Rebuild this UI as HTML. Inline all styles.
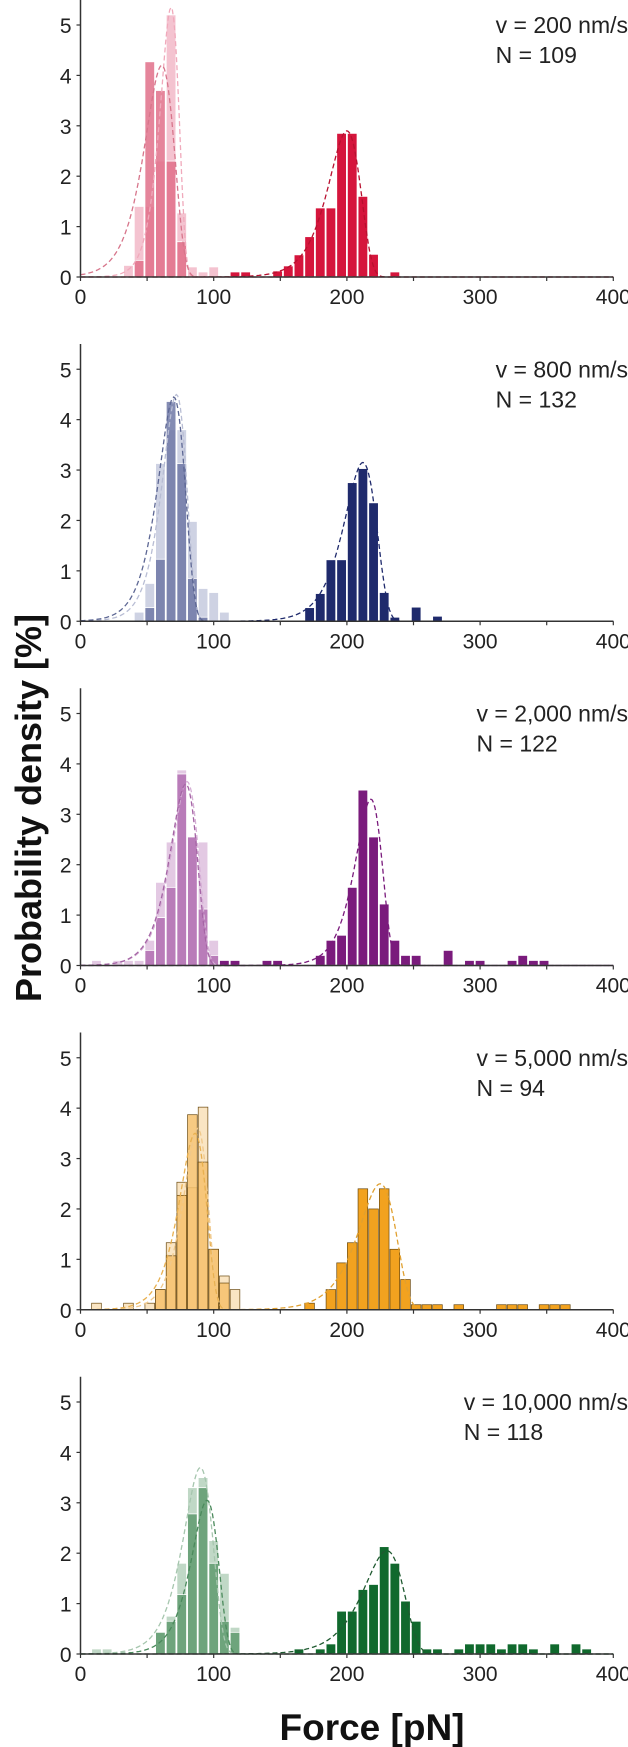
<!DOCTYPE html>
<html><head><meta charset="utf-8">
<style>
html,body{margin:0;padding:0;background:#fff;}
svg{display:block;font-family:"Liberation Sans",Arial,sans-serif;}
</style></head>
<body>
<svg id="chart" width="628" height="1747" viewBox="0 0 628 1747" xmlns="http://www.w3.org/2000/svg">
<text x="0" y="0" transform="translate(41,808) rotate(-90)" text-anchor="middle" font-size="36" font-weight="bold" fill="#111">Probability density [%]</text>
<text x="372" y="1740" text-anchor="middle" font-size="37" font-weight="bold" fill="#111">Force [pN]</text>
</svg>
<script>
const binWidth = 8;
const xTicks = [0, 100, 200, 300, 400];
const yTicks = [0, 1, 2, 3, 4, 5];
const speeds = ["v = 200 nm/s", "v = 800 nm/s", "v = 2,000 nm/s", "v = 5,000 nm/s", "v = 10,000 nm/s"];
const counts = ["N = 109", "N = 132", "N = 122", "N = 94", "N = 118"];

// histograms: [binStart, value]
const light1 = [[32,0.23],[40,1.4],[48,1.4],[56,2.3],[64,5.2],[72,1.27],[80,0.2],[88,0.1],[96,0.2]];
const medium1 = [[40,0.33],[48,4.27],[56,3.7],[64,2.3],[72,0.7]];
const dark1 = [[112,0.1],[120,0.1],[144,0.12],[152,0.22],[160,0.44],[168,0.8],[176,1.37],[184,1.37],[192,2.85],[200,2.85],[208,1.6],[216,0.45],[232,0.1]];

const light2 = [[40,0.18],[48,0.75],[56,3.13],[64,3.8],[72,3.8],[80,1.98],[88,0.65],[96,0.57],[104,0.18]];
const medium2 = [[48,0.27],[56,1.23],[64,4.36],[72,3.13],[80,0.85],[88,0.08]];
const dark2 = [[168,0.27],[176,0.55],[184,1.22],[192,1.22],[200,2.75],[208,3.03],[216,2.35],[224,0.57],[232,0.08],[248,0.28],[264,0.1]];

const light3 = [[8,0.1],[24,0.1],[32,0.1],[40,0.1],[48,0.5],[56,1.65],[64,2.45],[72,3.88],[80,2.55],[88,2.45],[96,0.5]];
const medium3 = [[48,0.3],[56,0.95],[64,1.55],[72,3.8],[80,2.55],[88,1.12],[96,0.2]];
const dark3 = [[104,0.1],[112,0.1],[136,0.1],[144,0.1],[176,0.2],[184,0.5],[192,0.6],[200,1.55],[208,3.48],[216,2.55],[224,1.22],[232,0.5],[240,0.2],[248,0.2],[272,0.3],[288,0.1],[296,0.1],[320,0.1],[328,0.2],[336,0.1],[344,0.1]];

const light4 = [[8,0.13],[32,0.13],[48,0.13],[56,0.4],[64,1.33],[72,2.53],[80,2.42],[88,4.02],[96,1.2],[104,0.67],[112,0.4]];
const medium4 = [[56,0.4],[64,1.07],[72,2.27],[80,3.87],[88,2.93],[96,1.2],[104,0.53]];
const dark4 = [[168,0.13],[184,0.4],[192,0.93],[200,1.33],[208,2.4],[216,2.0],[224,2.4],[232,1.2],[240,0.6],[248,0.1],[256,0.1],[264,0.1],[280,0.1],[312,0.1],[320,0.1],[328,0.1],[344,0.1],[352,0.1],[360,0.1]];

const light5 = [[8,0.1],[16,0.1],[56,0.43],[64,0.75],[72,1.8],[80,3.3],[88,3.5],[96,2.25],[104,1.6],[112,0.53]];
const medium5 = [[56,0.43],[64,0.65],[72,1.18],[80,2.78],[88,3.3],[96,1.8],[104,0.65],[112,0.43]];
const dark5 = [[160,0.1],[176,0.1],[184,0.2],[192,0.85],[200,0.85],[208,1.28],[216,1.38],[224,2.13],[232,1.8],[240,1.05],[248,0.65],[256,0.1],[264,0.1],[280,0.1],[288,0.2],[296,0.2],[304,0.2],[312,0.1],[320,0.2],[328,0.2],[336,0.1],[352,0.2],[368,0.2],[376,0.1]];

// fit parameters: [peakForce, width, peakValue]
const fitLight = [[68,7,5.35],[72,9,4.5],[80,10,3.65],[88,9,3.6],[90,11,3.7]];
const fitMedium = [[61,11,4.2],[70,10,4.45],[79,10,3.6],[86,10,3.5],[95,10,3.05]];
const fitDark = [[200,12,2.9],[212,12,3.15],[218,10,3.3],[225,14,2.5],[230,15,2.05]];

const lights = [light1, light2, light3, light4, light5];
const mediums = [medium1, medium2, medium3, medium4, medium5];
const darks = [dark1, dark2, dark3, dark4, dark5];

const palettes = [
  {light:"#f3bccb", medium:"#e0708a", dark:"#d5153c", fl:"#f0a9bb", fm:"#d7758b", fd:"#b8102f", stroke:"#fff"},
  {light:"#c9cde0", medium:"#6f78a6", dark:"#1f2a6c", fl:"#b8bdd4", fm:"#5d6794", fd:"#1f2a6c", stroke:"#fff"},
  {light:"#e0c3e0", medium:"#b26eb2", dark:"#7a1b7c", fl:"#d6b0d6", fm:"#a565a5", fd:"#7a1b7c", stroke:"#fff"},
  {light:"#fae2bd", medium:"#f6c16c", dark:"#f2a21f", fl:"#f0c88a", fm:"#e8b050", fd:"#e0a030", stroke:"#6b4a10"},
  {light:"#b9d4c0", medium:"#5f9b6f", dark:"#10692d", fl:"#a6c6ae", fm:"#4b8a5c", fd:"#1f5a30", stroke:"#fff"}
];

const svg = document.getElementById('chart');
const NS = "http://www.w3.org/2000/svg";
const X0 = 80.5, PX = 1.332, UNIT = 50.4, TOP0 = 277, GAP = 344.25;
function xs(f){ return X0 + f*PX; }
function mk(tag, attrs, parent){
  const e = document.createElementNS(NS, tag);
  for (const k in attrs) e.setAttribute(k, attrs[k]);
  parent.appendChild(e);
  return e;
}
function fitVal(f, p){ const z=(f-p[0])/p[1]; return p[2]*Math.exp(1+z-Math.exp(z)); }

for (let i=0;i<5;i++){
  const y0 = TOP0 + i*GAP;
  const ys = v => y0 - v*UNIT;
  const pal = palettes[i];
  const g = mk('g', {}, svg);
  
  

  function bars(data, fill, op, nm){
    data.forEach(d=>{
      const r = mk('rect', {x: xs(d[0])+0.5, y: ys(d[1]), width: binWidth*PX-1, height: d[1]*UNIT, fill: fill, 'fill-opacity': op, stroke: pal.stroke, 'stroke-width': i===3?0.7:0.8}, g);
      
      
    });
  }
  bars(lights[i], pal.light, 0.9, 'light-histogram');
  bars(mediums[i], pal.medium, 0.85, 'medium-histogram');
  bars(darks[i], pal.dark, 1, 'dark-histogram');

  function fit(p, col, nm){
    let d = "";
    for (let f=0; f<=400; f+=1){ d += (f===0?"M":"L") + xs(f).toFixed(1) + "," + ys(fitVal(f,p)).toFixed(1); }
    const path = mk('path', {d: d, fill:'none', stroke: col, 'stroke-width': 1.3, 'stroke-dasharray':'5,3'}, g);
    
    
  }
  fit(fitLight[i], pal.fl, 'light-fit-curve');
  fit(fitMedium[i], pal.fm, 'medium-fit-curve');
  fit(fitDark[i], pal.fd, 'dark-fit-curve');

  const ya = mk('line', {x1: X0, y1: y0, x2: X0, y2: y0-5.5*UNIT, stroke:'#333', 'stroke-width':1.5}, g);
  
  
  const xa = mk('line', {x1: X0, y1: y0, x2: xs(400), y2: y0, stroke:'#333', 'stroke-width':1.5}, g);
  
  

  yTicks.forEach(t=>{
    mk('line', {x1: X0-4, y1: ys(t), x2: X0, y2: ys(t), stroke:'#333', 'stroke-width':1.2}, g);
    const tx = mk('text', {x: X0-9, y: ys(t)+8, 'text-anchor':'end', 'font-size':21, fill:'#222'}, g);
    tx.textContent = t;
    
    
  });
  for (let f=0; f<=400; f+=50){
    mk('line', {x1: xs(f), y1: y0, x2: xs(f), y2: y0+4, stroke:'#333', 'stroke-width':1.2}, g);
  }
  xTicks.forEach(t=>{
    const tx = mk('text', {x: xs(t), y: y0+27, 'text-anchor':'middle', 'font-size':21, fill:'#222'}, g);
    tx.textContent = t;
    
    
  });

  const baseY = y0 - 277;
  const t1 = mk('text', {x: 628, y: baseY+33, 'text-anchor':'end', 'font-size':23, fill:'#222'}, g);
  t1.textContent = speeds[i];
  
  
  const startX = 628 - t1.getComputedTextLength();
  const t2 = mk('text', {x: startX, y: baseY+63, 'font-size':23, fill:'#222'}, g);
  t2.textContent = counts[i];
  
  
}
</script>
</body></html>
